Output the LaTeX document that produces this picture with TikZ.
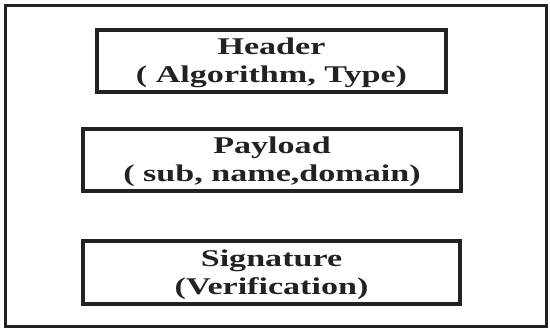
\documentclass[tikz,border=0pt]{standalone}
\usepackage{fontspec}
\usepackage{graphicx}
\setmainfont{Liberation Serif}
% the lettering is set broad
\newcommand\broad[1]{\scalebox{1.42}[1]{#1}}
\begin{document}
\begin{tikzpicture}[x=1pt,y=-1pt,
  label/.style={text=ink,font=\fontsize{24}{28}\selectfont\bfseries,align=center,inner sep=0pt}]
\definecolor{ink}{HTML}{222222}
\useasboundingbox (0,0) rectangle (550,330);
% outer frame
\draw[ink,line width=3pt] (5.5,5.5) rectangle (546.5,326.5);
% the three token parts
\draw[ink,line width=4pt] (97,30) rectangle (446,92);
\draw[ink,line width=4pt] (83,129) rectangle (461,191);
\draw[ink,line width=4pt] (83,241) rectangle (460,304);
\node[label] (header) at (271.5,63) {\broad{Header}\\\broad{( Algorithm, Type)}};
\node[label] (payload) at (272,162) {\broad{Payload}\\\broad{( sub, name,domain)}};
\node[label] (signature) at (271.5,274.5) {\broad{Signature}\\\broad{(Verification)}};
\end{tikzpicture}
\end{document}
